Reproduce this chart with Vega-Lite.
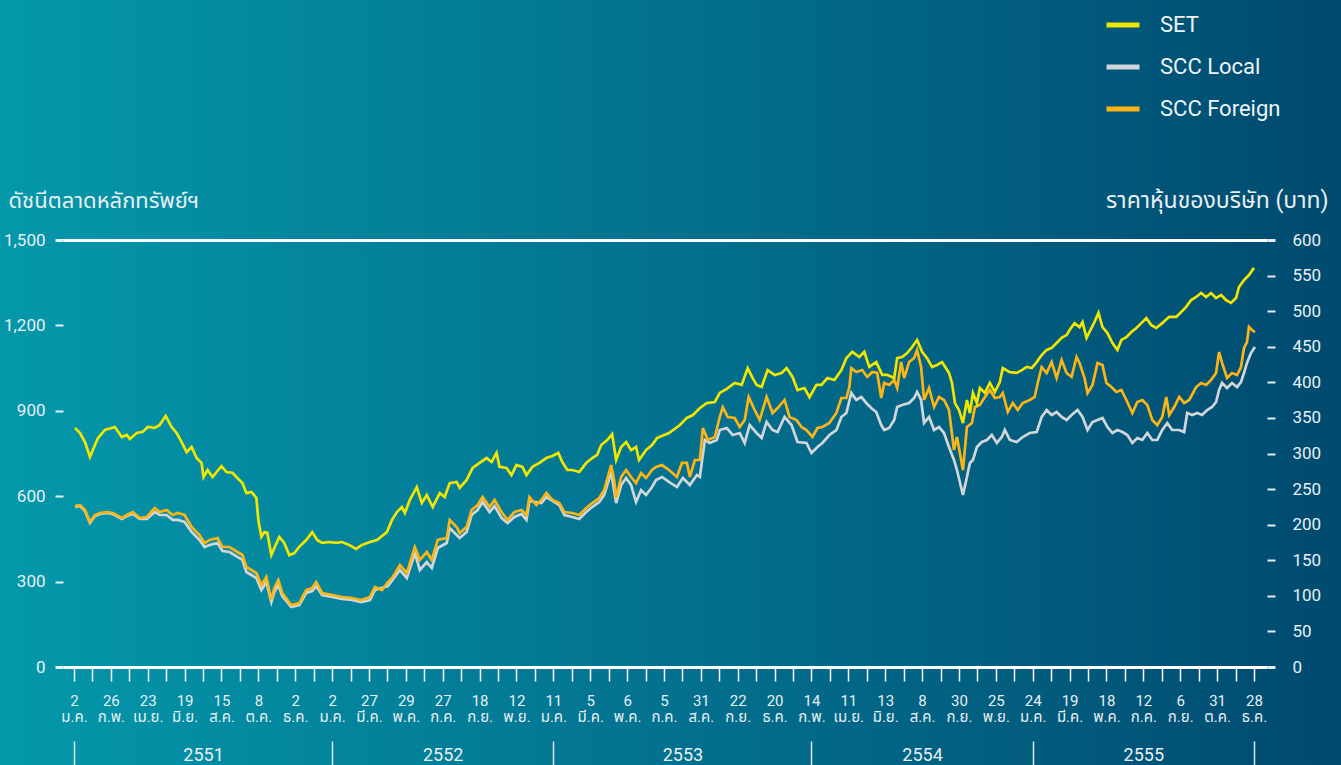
{
"$schema": "https://vega.github.io/schema/vega-lite/v6.json",
"width": 1204, "height": 427,
"autosize": {"type": "none"},
"padding": {"left": 63, "top": 240, "right": 74, "bottom": 98},
"background": "#02708d",
"config": {"view": {"stroke": null}, "font": "Roboto, 'Noto Sans Thai', sans-serif", "axis": {"labelOverlap": false}},
"data": {"values": [
{"d":1,"s":"SET","v":840},{"d":6,"s":"SET","v":822},{"d":11,"s":"SET","v":790},{"d":16,"s":"SET","v":738},{"d":21,"s":"SET","v":780},{"d":24,"s":"SET","v":804},{"d":31,"s":"SET","v":833},{"d":41,"s":"SET","v":843},{"d":48,"s":"SET","v":808},{"d":53,"s":"SET","v":815},{"d":56,"s":"SET","v":801},{"d":63,"s":"SET","v":822},{"d":69,"s":"SET","v":826},{"d":74,"s":"SET","v":843},{"d":81,"s":"SET","v":840},{"d":86,"s":"SET","v":850},{"d":92,"s":"SET","v":882},{"d":98,"s":"SET","v":843},{"d":103,"s":"SET","v":822},{"d":108,"s":"SET","v":790},{"d":113,"s":"SET","v":755},{"d":118,"s":"SET","v":773},{"d":123,"s":"SET","v":734},{"d":128,"s":"SET","v":717},{"d":130,"s":"SET","v":667},{"d":134,"s":"SET","v":692},{"d":139,"s":"SET","v":667},{"d":148,"s":"SET","v":706},{"d":153,"s":"SET","v":685},{"d":159,"s":"SET","v":682},{"d":164,"s":"SET","v":664},{"d":169,"s":"SET","v":646},{"d":173,"s":"SET","v":611},{"d":178,"s":"SET","v":615},{"d":183,"s":"SET","v":594},{"d":185,"s":"SET","v":516},{"d":188,"s":"SET","v":457},{"d":191,"s":"SET","v":474},{"d":194,"s":"SET","v":471},{"d":198,"s":"SET","v":393},{"d":201,"s":"SET","v":418},{"d":206,"s":"SET","v":457},{"d":211,"s":"SET","v":436},{"d":216,"s":"SET","v":393},{"d":221,"s":"SET","v":400},{"d":226,"s":"SET","v":422},{"d":233,"s":"SET","v":446},{"d":239,"s":"SET","v":474},{"d":244,"s":"SET","v":446},{"d":249,"s":"SET","v":436},{"d":256,"s":"SET","v":439},{"d":263,"s":"SET","v":436},{"d":269,"s":"SET","v":439},{"d":276,"s":"SET","v":429},{"d":283,"s":"SET","v":415},{"d":289,"s":"SET","v":429},{"d":297,"s":"SET","v":439},{"d":304,"s":"SET","v":446},{"d":314,"s":"SET","v":474},{"d":319,"s":"SET","v":516},{"d":324,"s":"SET","v":544},{"d":329,"s":"SET","v":562},{"d":332,"s":"SET","v":541},{"d":337,"s":"SET","v":587},{"d":344,"s":"SET","v":632},{"d":349,"s":"SET","v":576},{"d":354,"s":"SET","v":604},{"d":360,"s":"SET","v":562},{"d":367,"s":"SET","v":611},{"d":372,"s":"SET","v":597},{"d":377,"s":"SET","v":646},{"d":384,"s":"SET","v":650},{"d":387,"s":"SET","v":629},{"d":394,"s":"SET","v":657},{"d":400,"s":"SET","v":699},{"d":407,"s":"SET","v":717},{"d":414,"s":"SET","v":734},{"d":419,"s":"SET","v":720},{"d":424,"s":"SET","v":752},{"d":427,"s":"SET","v":703},{"d":434,"s":"SET","v":699},{"d":439,"s":"SET","v":674},{"d":444,"s":"SET","v":710},{"d":450,"s":"SET","v":703},{"d":454,"s":"SET","v":674},{"d":460,"s":"SET","v":703},{"d":467,"s":"SET","v":717},{"d":474,"s":"SET","v":734},{"d":480,"s":"SET","v":741},{"d":486,"s":"SET","v":752},{"d":490,"s":"SET","v":720},{"d":495,"s":"SET","v":692},{"d":500,"s":"SET","v":692},{"d":507,"s":"SET","v":685},{"d":514,"s":"SET","v":717},{"d":520,"s":"SET","v":734},{"d":525,"s":"SET","v":745},{"d":529,"s":"SET","v":780},{"d":535,"s":"SET","v":797},{"d":540,"s":"SET","v":818},{"d":544,"s":"SET","v":727},{"d":549,"s":"SET","v":773},{"d":554,"s":"SET","v":790},{"d":559,"s":"SET","v":762},{"d":564,"s":"SET","v":773},{"d":567,"s":"SET","v":727},{"d":574,"s":"SET","v":762},{"d":580,"s":"SET","v":780},{"d":585,"s":"SET","v":804},{"d":597,"s":"SET","v":822},{"d":608,"s":"SET","v":850},{"d":615,"s":"SET","v":875},{"d":621,"s":"SET","v":885},{"d":628,"s":"SET","v":910},{"d":635,"s":"SET","v":927},{"d":643,"s":"SET","v":931},{"d":648,"s":"SET","v":963},{"d":655,"s":"SET","v":977},{"d":663,"s":"SET","v":998},{"d":670,"s":"SET","v":991},{"d":676,"s":"SET","v":1050},{"d":681,"s":"SET","v":1015},{"d":685,"s":"SET","v":991},{"d":690,"s":"SET","v":984},{"d":696,"s":"SET","v":1043},{"d":703,"s":"SET","v":1026},{"d":710,"s":"SET","v":1033},{"d":715,"s":"SET","v":1050},{"d":721,"s":"SET","v":1019},{"d":726,"s":"SET","v":973},{"d":733,"s":"SET","v":980},{"d":738,"s":"SET","v":948},{"d":745,"s":"SET","v":991},{"d":750,"s":"SET","v":991},{"d":756,"s":"SET","v":1015},{"d":763,"s":"SET","v":1008},{"d":770,"s":"SET","v":1043},{"d":775,"s":"SET","v":1085},{"d":781,"s":"SET","v":1107},{"d":788,"s":"SET","v":1089},{"d":793,"s":"SET","v":1107},{"d":798,"s":"SET","v":1054},{"d":805,"s":"SET","v":1071},{"d":811,"s":"SET","v":1026},{"d":816,"s":"SET","v":1026},{"d":823,"s":"SET","v":1015},{"d":826,"s":"SET","v":1085},{"d":831,"s":"SET","v":1089},{"d":836,"s":"SET","v":1103},{"d":841,"s":"SET","v":1124},{"d":846,"s":"SET","v":1149},{"d":851,"s":"SET","v":1107},{"d":856,"s":"SET","v":1085},{"d":861,"s":"SET","v":1054},{"d":866,"s":"SET","v":1061},{"d":871,"s":"SET","v":1071},{"d":878,"s":"SET","v":1033},{"d":881,"s":"SET","v":998},{"d":884,"s":"SET","v":927},{"d":888,"s":"SET","v":903},{"d":892,"s":"SET","v":857},{"d":896,"s":"SET","v":938},{"d":899,"s":"SET","v":892},{"d":902,"s":"SET","v":963},{"d":906,"s":"SET","v":927},{"d":909,"s":"SET","v":980},{"d":914,"s":"SET","v":963},{"d":919,"s":"SET","v":998},{"d":924,"s":"SET","v":966},{"d":929,"s":"SET","v":1001},{"d":932,"s":"SET","v":1050},{"d":939,"s":"SET","v":1036},{"d":946,"s":"SET","v":1033},{"d":951,"s":"SET","v":1043},{"d":956,"s":"SET","v":1054},{"d":961,"s":"SET","v":1050},{"d":966,"s":"SET","v":1071},{"d":971,"s":"SET","v":1096},{"d":976,"s":"SET","v":1114},{"d":981,"s":"SET","v":1121},{"d":986,"s":"SET","v":1138},{"d":991,"s":"SET","v":1156},{"d":996,"s":"SET","v":1166},{"d":999,"s":"SET","v":1184},{"d":1004,"s":"SET","v":1208},{"d":1009,"s":"SET","v":1194},{"d":1012,"s":"SET","v":1212},{"d":1016,"s":"SET","v":1156},{"d":1019,"s":"SET","v":1177},{"d":1024,"s":"SET","v":1212},{"d":1028,"s":"SET","v":1244},{"d":1032,"s":"SET","v":1194},{"d":1037,"s":"SET","v":1173},{"d":1042,"s":"SET","v":1138},{"d":1047,"s":"SET","v":1114},{"d":1051,"s":"SET","v":1149},{"d":1056,"s":"SET","v":1159},{"d":1061,"s":"SET","v":1177},{"d":1066,"s":"SET","v":1191},{"d":1071,"s":"SET","v":1208},{"d":1076,"s":"SET","v":1226},{"d":1081,"s":"SET","v":1201},{"d":1086,"s":"SET","v":1191},{"d":1092,"s":"SET","v":1208},{"d":1099,"s":"SET","v":1230},{"d":1106,"s":"SET","v":1230},{"d":1111,"s":"SET","v":1247},{"d":1116,"s":"SET","v":1265},{"d":1121,"s":"SET","v":1289},{"d":1126,"s":"SET","v":1300},{"d":1131,"s":"SET","v":1314},{"d":1136,"s":"SET","v":1300},{"d":1141,"s":"SET","v":1314},{"d":1146,"s":"SET","v":1296},{"d":1151,"s":"SET","v":1307},{"d":1156,"s":"SET","v":1289},{"d":1161,"s":"SET","v":1279},{"d":1166,"s":"SET","v":1296},{"d":1169,"s":"SET","v":1335},{"d":1174,"s":"SET","v":1359},{"d":1179,"s":"SET","v":1377},{"d":1184,"s":"SET","v":1402},
{"d":1,"s":"SCC Local","v":224.8},{"d":6,"s":"SCC Local","v":226.2},{"d":11,"s":"SCC Local","v":219.2},{"d":16,"s":"SCC Local","v":202.3},{"d":21,"s":"SCC Local","v":212.2},{"d":26,"s":"SCC Local","v":215.0},{"d":33,"s":"SCC Local","v":216.4},{"d":39,"s":"SCC Local","v":215.0},{"d":48,"s":"SCC Local","v":208.0},{"d":53,"s":"SCC Local","v":212.2},{"d":59,"s":"SCC Local","v":215.0},{"d":66,"s":"SCC Local","v":208.0},{"d":73,"s":"SCC Local","v":208.0},{"d":81,"s":"SCC Local","v":217.8},{"d":86,"s":"SCC Local","v":213.6},{"d":93,"s":"SCC Local","v":213.6},{"d":99,"s":"SCC Local","v":206.6},{"d":104,"s":"SCC Local","v":206.6},{"d":111,"s":"SCC Local","v":203.7},{"d":118,"s":"SCC Local","v":189.7},{"d":126,"s":"SCC Local","v":178.5},{"d":131,"s":"SCC Local","v":168.6},{"d":136,"s":"SCC Local","v":171.4},{"d":144,"s":"SCC Local","v":174.2},{"d":149,"s":"SCC Local","v":163.0},{"d":156,"s":"SCC Local","v":161.6},{"d":164,"s":"SCC Local","v":154.6},{"d":169,"s":"SCC Local","v":150.4},{"d":173,"s":"SCC Local","v":133.5},{"d":178,"s":"SCC Local","v":129.3},{"d":183,"s":"SCC Local","v":125.1},{"d":188,"s":"SCC Local","v":108.2},{"d":193,"s":"SCC Local","v":119.4},{"d":198,"s":"SCC Local","v":91.3},{"d":201,"s":"SCC Local","v":105.4},{"d":205,"s":"SCC Local","v":115.2},{"d":209,"s":"SCC Local","v":99.8},{"d":218,"s":"SCC Local","v":84.3},{"d":226,"s":"SCC Local","v":87.1},{"d":233,"s":"SCC Local","v":104.0},{"d":239,"s":"SCC Local","v":106.8},{"d":243,"s":"SCC Local","v":113.8},{"d":249,"s":"SCC Local","v":101.2},{"d":259,"s":"SCC Local","v":98.4},{"d":269,"s":"SCC Local","v":95.6},{"d":279,"s":"SCC Local","v":94.1},{"d":288,"s":"SCC Local","v":91.3},{"d":297,"s":"SCC Local","v":94.1},{"d":302,"s":"SCC Local","v":108.2},{"d":315,"s":"SCC Local","v":113.8},{"d":327,"s":"SCC Local","v":136.3},{"d":334,"s":"SCC Local","v":125.1},{"d":342,"s":"SCC Local","v":160.2},{"d":347,"s":"SCC Local","v":136.3},{"d":354,"s":"SCC Local","v":147.5},{"d":359,"s":"SCC Local","v":139.1},{"d":365,"s":"SCC Local","v":167.2},{"d":374,"s":"SCC Local","v":174.2},{"d":377,"s":"SCC Local","v":195.3},{"d":387,"s":"SCC Local","v":181.3},{"d":394,"s":"SCC Local","v":189.7},{"d":399,"s":"SCC Local","v":213.6},{"d":405,"s":"SCC Local","v":220.6},{"d":410,"s":"SCC Local","v":231.8},{"d":417,"s":"SCC Local","v":217.8},{"d":422,"s":"SCC Local","v":226.2},{"d":429,"s":"SCC Local","v":209.4},{"d":435,"s":"SCC Local","v":202.3},{"d":442,"s":"SCC Local","v":210.8},{"d":449,"s":"SCC Local","v":215.0},{"d":454,"s":"SCC Local","v":206.6},{"d":457,"s":"SCC Local","v":233.3},{"d":469,"s":"SCC Local","v":230.4},{"d":474,"s":"SCC Local","v":238.9},{"d":487,"s":"SCC Local","v":227.6},{"d":492,"s":"SCC Local","v":213.6},{"d":500,"s":"SCC Local","v":210.8},{"d":507,"s":"SCC Local","v":208.0},{"d":514,"s":"SCC Local","v":217.8},{"d":520,"s":"SCC Local","v":224.8},{"d":527,"s":"SCC Local","v":231.8},{"d":532,"s":"SCC Local","v":241.7},{"d":539,"s":"SCC Local","v":274.0},{"d":544,"s":"SCC Local","v":230.4},{"d":549,"s":"SCC Local","v":255.7},{"d":554,"s":"SCC Local","v":265.6},{"d":559,"s":"SCC Local","v":255.7},{"d":564,"s":"SCC Local","v":231.8},{"d":569,"s":"SCC Local","v":248.7},{"d":574,"s":"SCC Local","v":241.7},{"d":580,"s":"SCC Local","v":252.9},{"d":584,"s":"SCC Local","v":262.8},{"d":590,"s":"SCC Local","v":267.0},{"d":597,"s":"SCC Local","v":260.0},{"d":605,"s":"SCC Local","v":252.9},{"d":611,"s":"SCC Local","v":265.6},{"d":618,"s":"SCC Local","v":255.7},{"d":625,"s":"SCC Local","v":269.8},{"d":628,"s":"SCC Local","v":267.0},{"d":633,"s":"SCC Local","v":319.0},{"d":638,"s":"SCC Local","v":314.8},{"d":645,"s":"SCC Local","v":319.0},{"d":648,"s":"SCC Local","v":333.0},{"d":655,"s":"SCC Local","v":335.8},{"d":661,"s":"SCC Local","v":326.0},{"d":668,"s":"SCC Local","v":328.8},{"d":673,"s":"SCC Local","v":314.8},{"d":678,"s":"SCC Local","v":340.0},{"d":685,"s":"SCC Local","v":328.8},{"d":690,"s":"SCC Local","v":321.8},{"d":695,"s":"SCC Local","v":344.3},{"d":701,"s":"SCC Local","v":333.0},{"d":706,"s":"SCC Local","v":330.2},{"d":713,"s":"SCC Local","v":351.3},{"d":720,"s":"SCC Local","v":340.0},{"d":726,"s":"SCC Local","v":316.2},{"d":735,"s":"SCC Local","v":314.8},{"d":740,"s":"SCC Local","v":300.7},{"d":746,"s":"SCC Local","v":309.1},{"d":751,"s":"SCC Local","v":314.8},{"d":758,"s":"SCC Local","v":326.0},{"d":765,"s":"SCC Local","v":333.0},{"d":770,"s":"SCC Local","v":351.3},{"d":775,"s":"SCC Local","v":356.9},{"d":780,"s":"SCC Local","v":385.0},{"d":785,"s":"SCC Local","v":375.2},{"d":790,"s":"SCC Local","v":379.4},{"d":795,"s":"SCC Local","v":371.0},{"d":800,"s":"SCC Local","v":363.9},{"d":805,"s":"SCC Local","v":358.3},{"d":810,"s":"SCC Local","v":340.0},{"d":813,"s":"SCC Local","v":333.0},{"d":818,"s":"SCC Local","v":335.8},{"d":823,"s":"SCC Local","v":347.1},{"d":826,"s":"SCC Local","v":365.3},{"d":831,"s":"SCC Local","v":368.1},{"d":838,"s":"SCC Local","v":371.0},{"d":843,"s":"SCC Local","v":378.0},{"d":846,"s":"SCC Local","v":386.4},{"d":850,"s":"SCC Local","v":375.2},{"d":853,"s":"SCC Local","v":342.9},{"d":858,"s":"SCC Local","v":351.3},{"d":863,"s":"SCC Local","v":333.0},{"d":868,"s":"SCC Local","v":337.2},{"d":873,"s":"SCC Local","v":328.8},{"d":878,"s":"SCC Local","v":309.1},{"d":883,"s":"SCC Local","v":290.9},{"d":886,"s":"SCC Local","v":276.8},{"d":892,"s":"SCC Local","v":241.7},{"d":896,"s":"SCC Local","v":267.0},{"d":899,"s":"SCC Local","v":286.7},{"d":902,"s":"SCC Local","v":290.9},{"d":906,"s":"SCC Local","v":309.1},{"d":911,"s":"SCC Local","v":316.2},{"d":916,"s":"SCC Local","v":319.0},{"d":921,"s":"SCC Local","v":326.0},{"d":926,"s":"SCC Local","v":314.8},{"d":931,"s":"SCC Local","v":323.2},{"d":934,"s":"SCC Local","v":333.0},{"d":939,"s":"SCC Local","v":319.0},{"d":946,"s":"SCC Local","v":316.2},{"d":952,"s":"SCC Local","v":323.2},{"d":959,"s":"SCC Local","v":328.8},{"d":966,"s":"SCC Local","v":330.2},{"d":971,"s":"SCC Local","v":351.3},{"d":976,"s":"SCC Local","v":361.1},{"d":981,"s":"SCC Local","v":354.1},{"d":986,"s":"SCC Local","v":358.3},{"d":991,"s":"SCC Local","v":351.3},{"d":996,"s":"SCC Local","v":347.1},{"d":1001,"s":"SCC Local","v":354.1},{"d":1007,"s":"SCC Local","v":361.1},{"d":1012,"s":"SCC Local","v":351.3},{"d":1017,"s":"SCC Local","v":333.0},{"d":1022,"s":"SCC Local","v":344.3},{"d":1027,"s":"SCC Local","v":347.1},{"d":1032,"s":"SCC Local","v":349.9},{"d":1037,"s":"SCC Local","v":337.2},{"d":1042,"s":"SCC Local","v":328.8},{"d":1047,"s":"SCC Local","v":333.0},{"d":1052,"s":"SCC Local","v":330.2},{"d":1057,"s":"SCC Local","v":326.0},{"d":1062,"s":"SCC Local","v":314.8},{"d":1067,"s":"SCC Local","v":321.8},{"d":1072,"s":"SCC Local","v":319.0},{"d":1077,"s":"SCC Local","v":328.8},{"d":1082,"s":"SCC Local","v":319.0},{"d":1087,"s":"SCC Local","v":319.0},{"d":1092,"s":"SCC Local","v":333.0},{"d":1097,"s":"SCC Local","v":342.9},{"d":1102,"s":"SCC Local","v":333.0},{"d":1109,"s":"SCC Local","v":333.0},{"d":1114,"s":"SCC Local","v":330.2},{"d":1117,"s":"SCC Local","v":356.9},{"d":1122,"s":"SCC Local","v":354.1},{"d":1127,"s":"SCC Local","v":356.9},{"d":1132,"s":"SCC Local","v":354.1},{"d":1137,"s":"SCC Local","v":361.1},{"d":1142,"s":"SCC Local","v":365.3},{"d":1146,"s":"SCC Local","v":372.4},{"d":1149,"s":"SCC Local","v":389.2},{"d":1152,"s":"SCC Local","v":399.1},{"d":1157,"s":"SCC Local","v":392.0},{"d":1162,"s":"SCC Local","v":399.1},{"d":1167,"s":"SCC Local","v":393.4},{"d":1171,"s":"SCC Local","v":400.5},{"d":1174,"s":"SCC Local","v":413.1},{"d":1177,"s":"SCC Local","v":427.2},{"d":1181,"s":"SCC Local","v":441.2},{"d":1185,"s":"SCC Local","v":449.6},
{"d":1,"s":"SCC Foreign","v":226.2},{"d":6,"s":"SCC Foreign","v":227.6},{"d":11,"s":"SCC Foreign","v":220.6},{"d":16,"s":"SCC Foreign","v":203.7},{"d":21,"s":"SCC Foreign","v":213.6},{"d":26,"s":"SCC Foreign","v":216.4},{"d":33,"s":"SCC Foreign","v":217.8},{"d":39,"s":"SCC Foreign","v":216.4},{"d":48,"s":"SCC Foreign","v":209.4},{"d":53,"s":"SCC Foreign","v":213.6},{"d":59,"s":"SCC Foreign","v":217.8},{"d":66,"s":"SCC Foreign","v":209.4},{"d":73,"s":"SCC Foreign","v":210.8},{"d":81,"s":"SCC Foreign","v":223.4},{"d":86,"s":"SCC Foreign","v":217.8},{"d":93,"s":"SCC Foreign","v":220.6},{"d":99,"s":"SCC Foreign","v":213.6},{"d":104,"s":"SCC Foreign","v":216.4},{"d":111,"s":"SCC Foreign","v":213.6},{"d":118,"s":"SCC Foreign","v":196.7},{"d":126,"s":"SCC Foreign","v":185.5},{"d":131,"s":"SCC Foreign","v":174.2},{"d":136,"s":"SCC Foreign","v":178.5},{"d":144,"s":"SCC Foreign","v":181.3},{"d":149,"s":"SCC Foreign","v":168.6},{"d":156,"s":"SCC Foreign","v":168.6},{"d":164,"s":"SCC Foreign","v":161.6},{"d":169,"s":"SCC Foreign","v":157.4},{"d":173,"s":"SCC Foreign","v":140.5},{"d":178,"s":"SCC Foreign","v":136.3},{"d":183,"s":"SCC Foreign","v":132.1},{"d":188,"s":"SCC Foreign","v":115.2},{"d":193,"s":"SCC Foreign","v":126.5},{"d":198,"s":"SCC Foreign","v":94.1},{"d":201,"s":"SCC Foreign","v":111.0},{"d":205,"s":"SCC Foreign","v":122.2},{"d":209,"s":"SCC Foreign","v":104.0},{"d":218,"s":"SCC Foreign","v":87.1},{"d":226,"s":"SCC Foreign","v":89.9},{"d":233,"s":"SCC Foreign","v":108.2},{"d":239,"s":"SCC Foreign","v":111.0},{"d":243,"s":"SCC Foreign","v":119.4},{"d":249,"s":"SCC Foreign","v":104.0},{"d":259,"s":"SCC Foreign","v":101.2},{"d":269,"s":"SCC Foreign","v":98.4},{"d":279,"s":"SCC Foreign","v":97.0},{"d":288,"s":"SCC Foreign","v":94.1},{"d":297,"s":"SCC Foreign","v":98.4},{"d":302,"s":"SCC Foreign","v":112.4},{"d":309,"s":"SCC Foreign","v":108.2},{"d":315,"s":"SCC Foreign","v":119.4},{"d":320,"s":"SCC Foreign","v":126.5},{"d":327,"s":"SCC Foreign","v":143.3},{"d":334,"s":"SCC Foreign","v":132.1},{"d":342,"s":"SCC Foreign","v":168.6},{"d":347,"s":"SCC Foreign","v":150.4},{"d":354,"s":"SCC Foreign","v":161.6},{"d":359,"s":"SCC Foreign","v":150.4},{"d":365,"s":"SCC Foreign","v":178.5},{"d":374,"s":"SCC Foreign","v":181.3},{"d":377,"s":"SCC Foreign","v":206.6},{"d":384,"s":"SCC Foreign","v":196.7},{"d":387,"s":"SCC Foreign","v":188.3},{"d":394,"s":"SCC Foreign","v":196.7},{"d":399,"s":"SCC Foreign","v":220.6},{"d":405,"s":"SCC Foreign","v":227.6},{"d":410,"s":"SCC Foreign","v":238.9},{"d":417,"s":"SCC Foreign","v":224.8},{"d":422,"s":"SCC Foreign","v":234.7},{"d":429,"s":"SCC Foreign","v":217.8},{"d":435,"s":"SCC Foreign","v":206.6},{"d":442,"s":"SCC Foreign","v":217.8},{"d":449,"s":"SCC Foreign","v":220.6},{"d":454,"s":"SCC Foreign","v":213.6},{"d":457,"s":"SCC Foreign","v":238.9},{"d":464,"s":"SCC Foreign","v":227.6},{"d":469,"s":"SCC Foreign","v":234.7},{"d":474,"s":"SCC Foreign","v":244.5},{"d":480,"s":"SCC Foreign","v":234.7},{"d":487,"s":"SCC Foreign","v":230.4},{"d":492,"s":"SCC Foreign","v":217.8},{"d":500,"s":"SCC Foreign","v":216.4},{"d":507,"s":"SCC Foreign","v":213.6},{"d":514,"s":"SCC Foreign","v":223.4},{"d":520,"s":"SCC Foreign","v":230.4},{"d":527,"s":"SCC Foreign","v":237.5},{"d":532,"s":"SCC Foreign","v":248.7},{"d":539,"s":"SCC Foreign","v":283.8},{"d":542,"s":"SCC Foreign","v":262.8},{"d":544,"s":"SCC Foreign","v":237.5},{"d":549,"s":"SCC Foreign","v":267.0},{"d":554,"s":"SCC Foreign","v":276.8},{"d":559,"s":"SCC Foreign","v":267.0},{"d":564,"s":"SCC Foreign","v":258.5},{"d":569,"s":"SCC Foreign","v":272.6},{"d":574,"s":"SCC Foreign","v":265.6},{"d":580,"s":"SCC Foreign","v":276.8},{"d":584,"s":"SCC Foreign","v":281.0},{"d":590,"s":"SCC Foreign","v":283.8},{"d":597,"s":"SCC Foreign","v":276.8},{"d":605,"s":"SCC Foreign","v":267.0},{"d":610,"s":"SCC Foreign","v":286.7},{"d":615,"s":"SCC Foreign","v":286.7},{"d":618,"s":"SCC Foreign","v":267.0},{"d":623,"s":"SCC Foreign","v":290.9},{"d":628,"s":"SCC Foreign","v":290.9},{"d":631,"s":"SCC Foreign","v":335.8},{"d":636,"s":"SCC Foreign","v":319.0},{"d":643,"s":"SCC Foreign","v":323.2},{"d":648,"s":"SCC Foreign","v":351.3},{"d":651,"s":"SCC Foreign","v":365.3},{"d":656,"s":"SCC Foreign","v":351.3},{"d":663,"s":"SCC Foreign","v":349.9},{"d":668,"s":"SCC Foreign","v":337.2},{"d":673,"s":"SCC Foreign","v":347.1},{"d":677,"s":"SCC Foreign","v":379.4},{"d":683,"s":"SCC Foreign","v":361.1},{"d":688,"s":"SCC Foreign","v":347.1},{"d":695,"s":"SCC Foreign","v":379.4},{"d":701,"s":"SCC Foreign","v":356.9},{"d":706,"s":"SCC Foreign","v":363.9},{"d":713,"s":"SCC Foreign","v":375.2},{"d":718,"s":"SCC Foreign","v":351.3},{"d":725,"s":"SCC Foreign","v":347.1},{"d":730,"s":"SCC Foreign","v":337.2},{"d":735,"s":"SCC Foreign","v":333.0},{"d":741,"s":"SCC Foreign","v":323.2},{"d":746,"s":"SCC Foreign","v":335.8},{"d":751,"s":"SCC Foreign","v":337.2},{"d":758,"s":"SCC Foreign","v":342.9},{"d":765,"s":"SCC Foreign","v":356.9},{"d":770,"s":"SCC Foreign","v":378.0},{"d":775,"s":"SCC Foreign","v":378.0},{"d":778,"s":"SCC Foreign","v":393.4},{"d":780,"s":"SCC Foreign","v":420.1},{"d":785,"s":"SCC Foreign","v":414.5},{"d":791,"s":"SCC Foreign","v":417.3},{"d":796,"s":"SCC Foreign","v":407.5},{"d":801,"s":"SCC Foreign","v":414.5},{"d":806,"s":"SCC Foreign","v":413.1},{"d":810,"s":"SCC Foreign","v":378.0},{"d":813,"s":"SCC Foreign","v":399.1},{"d":818,"s":"SCC Foreign","v":396.3},{"d":823,"s":"SCC Foreign","v":403.3},{"d":826,"s":"SCC Foreign","v":392.0},{"d":830,"s":"SCC Foreign","v":428.6},{"d":833,"s":"SCC Foreign","v":406.1},{"d":838,"s":"SCC Foreign","v":428.6},{"d":843,"s":"SCC Foreign","v":434.2},{"d":846,"s":"SCC Foreign","v":445.4},{"d":850,"s":"SCC Foreign","v":421.5},{"d":853,"s":"SCC Foreign","v":375.2},{"d":858,"s":"SCC Foreign","v":392.0},{"d":863,"s":"SCC Foreign","v":365.3},{"d":868,"s":"SCC Foreign","v":379.4},{"d":873,"s":"SCC Foreign","v":375.2},{"d":878,"s":"SCC Foreign","v":361.1},{"d":883,"s":"SCC Foreign","v":304.9},{"d":886,"s":"SCC Foreign","v":323.2},{"d":892,"s":"SCC Foreign","v":276.8},{"d":896,"s":"SCC Foreign","v":337.2},{"d":901,"s":"SCC Foreign","v":342.9},{"d":904,"s":"SCC Foreign","v":365.3},{"d":909,"s":"SCC Foreign","v":368.1},{"d":914,"s":"SCC Foreign","v":379.4},{"d":919,"s":"SCC Foreign","v":389.2},{"d":924,"s":"SCC Foreign","v":378.0},{"d":929,"s":"SCC Foreign","v":379.4},{"d":932,"s":"SCC Foreign","v":385.0},{"d":937,"s":"SCC Foreign","v":358.3},{"d":942,"s":"SCC Foreign","v":371.0},{"d":947,"s":"SCC Foreign","v":361.1},{"d":952,"s":"SCC Foreign","v":371.0},{"d":959,"s":"SCC Foreign","v":375.2},{"d":964,"s":"SCC Foreign","v":379.4},{"d":967,"s":"SCC Foreign","v":399.1},{"d":971,"s":"SCC Foreign","v":421.5},{"d":976,"s":"SCC Foreign","v":413.1},{"d":981,"s":"SCC Foreign","v":428.6},{"d":986,"s":"SCC Foreign","v":406.1},{"d":991,"s":"SCC Foreign","v":431.4},{"d":996,"s":"SCC Foreign","v":413.1},{"d":1001,"s":"SCC Foreign","v":407.5},{"d":1006,"s":"SCC Foreign","v":435.6},{"d":1009,"s":"SCC Foreign","v":427.2},{"d":1014,"s":"SCC Foreign","v":406.1},{"d":1017,"s":"SCC Foreign","v":385.0},{"d":1022,"s":"SCC Foreign","v":396.3},{"d":1027,"s":"SCC Foreign","v":427.2},{"d":1032,"s":"SCC Foreign","v":424.4},{"d":1036,"s":"SCC Foreign","v":399.1},{"d":1041,"s":"SCC Foreign","v":393.4},{"d":1046,"s":"SCC Foreign","v":386.4},{"d":1051,"s":"SCC Foreign","v":389.2},{"d":1056,"s":"SCC Foreign","v":375.2},{"d":1062,"s":"SCC Foreign","v":356.9},{"d":1067,"s":"SCC Foreign","v":372.4},{"d":1072,"s":"SCC Foreign","v":375.2},{"d":1077,"s":"SCC Foreign","v":368.1},{"d":1082,"s":"SCC Foreign","v":347.1},{"d":1087,"s":"SCC Foreign","v":340.0},{"d":1092,"s":"SCC Foreign","v":351.3},{"d":1096,"s":"SCC Foreign","v":379.4},{"d":1099,"s":"SCC Foreign","v":354.1},{"d":1104,"s":"SCC Foreign","v":365.3},{"d":1109,"s":"SCC Foreign","v":379.4},{"d":1114,"s":"SCC Foreign","v":371.0},{"d":1119,"s":"SCC Foreign","v":375.2},{"d":1126,"s":"SCC Foreign","v":393.4},{"d":1131,"s":"SCC Foreign","v":399.1},{"d":1136,"s":"SCC Foreign","v":396.3},{"d":1141,"s":"SCC Foreign","v":403.3},{"d":1146,"s":"SCC Foreign","v":413.1},{"d":1149,"s":"SCC Foreign","v":442.6},{"d":1152,"s":"SCC Foreign","v":427.2},{"d":1157,"s":"SCC Foreign","v":406.1},{"d":1162,"s":"SCC Foreign","v":413.1},{"d":1167,"s":"SCC Foreign","v":410.3},{"d":1171,"s":"SCC Foreign","v":421.5},{"d":1174,"s":"SCC Foreign","v":448.2},{"d":1177,"s":"SCC Foreign","v":456.7},{"d":1179,"s":"SCC Foreign","v":477.8},{"d":1182,"s":"SCC Foreign","v":473.5},{"d":1185,"s":"SCC Foreign","v":470.7}
]},
"layer": [
 {"layer": [
   {"data": {"values": [{}]},
    "mark": {"type": "rect", "fill": {"gradient": "linear", "x1": 0, "y1": 0, "x2": 1, "y2": 0, "stops": [{"offset": 0, "color": "#0498aa"}, {"offset": 0.5, "color": "#03718f"}, {"offset": 1, "color": "#004a6f"}]}},
    "encoding": {
      "x": {"datum": -75, "type": "quantitative", "scale": {"domain": [-11.04, 1197.1], "nice": false, "zero": false},
        "axis": {"orient": "bottom", "title": null, "zindex": 1, "domain": false, "grid": false, "tickCount": 200,
          "values": [0,18.5,37,55.5,74,92.5,111,129.5,148,166.5,185,203.5,222,240.5,259,277.5,296,314.5,333,351.5,370,388.5,407,425.5,444,462.5,481,499.5,518,536.5,555,573.5,592,610.5,629,647.5,666,684.5,703,721.5,740,758.5,777,795.5,814,832.5,851,869.5,888,906.5,925,943.5,962,980.5,999,1017.5,1036,1054.5,1073,1091.5,1110,1128.5,1147,1165.5,1184],
          "labelExpr": "datum.value % 37 == 0 ? [['2','ม.ค.'],['26','ก.พ.'],['23','เม.ย.'],['19','มิ.ย.'],['15','ส.ค.'],['8','ต.ค.'],['2','ธ.ค.'],['2','ม.ค.'],['27','มี.ค.'],['29','พ.ค.'],['27','ก.ค.'],['18','ก.ย.'],['12','พ.ย.'],['11','ม.ค.'],['5','มี.ค.'],['6','พ.ค.'],['5','ก.ค.'],['31','ส.ค.'],['22','ก.ย.'],['20','ธ.ค.'],['14','ก.พ.'],['11','เม.ย.'],['13','มิ.ย.'],['8','ส.ค.'],['30','ก.ย.'],['25','พ.ย.'],['24','ม.ค.'],['19','มี.ค.'],['18','พ.ค.'],['12','ก.ค.'],['6','ก.ย.'],['31','ต.ค.'],['28','ธ.ค.']][round(datum.value / 37)] : ''",
          "tickSize": 14, "tickWidth": 1.5, "tickColor": "#ffffff",
          "labelFontSize": 15, "labelColor": "#e8eff2", "labelPadding": 12, "labelLineHeight": 16,
          "labelOverlap": false, "labelFlush": false, "labelBound": false}},
      "x2": {"datum": 1272},
      "y": {"datum": -140, "type": "quantitative", "scale": {"domain": [0, 600], "nice": false}},
      "y2": {"datum": 940}
    }},
   {"transform": [{"filter": "datum.s == 'SCC Local'"}],
    "mark": {"type": "line", "strokeWidth": 2.7},
    "encoding": {
      "x": {"field": "d", "type": "quantitative", "scale": {"domain": [-11.04, 1197.1], "nice": false, "zero": false},
        "axis": {"orient": "bottom", "title": null, "zindex": 1, "domain": false, "grid": false, "tickCount": 200,
          "values": [0,18.5,37,55.5,74,92.5,111,129.5,148,166.5,185,203.5,222,240.5,259,277.5,296,314.5,333,351.5,370,388.5,407,425.5,444,462.5,481,499.5,518,536.5,555,573.5,592,610.5,629,647.5,666,684.5,703,721.5,740,758.5,777,795.5,814,832.5,851,869.5,888,906.5,925,943.5,962,980.5,999,1017.5,1036,1054.5,1073,1091.5,1110,1128.5,1147,1165.5,1184],
          "labelExpr": "datum.value % 37 == 0 ? [['2','ม.ค.'],['26','ก.พ.'],['23','เม.ย.'],['19','มิ.ย.'],['15','ส.ค.'],['8','ต.ค.'],['2','ธ.ค.'],['2','ม.ค.'],['27','มี.ค.'],['29','พ.ค.'],['27','ก.ค.'],['18','ก.ย.'],['12','พ.ย.'],['11','ม.ค.'],['5','มี.ค.'],['6','พ.ค.'],['5','ก.ค.'],['31','ส.ค.'],['22','ก.ย.'],['20','ธ.ค.'],['14','ก.พ.'],['11','เม.ย.'],['13','มิ.ย.'],['8','ส.ค.'],['30','ก.ย.'],['25','พ.ย.'],['24','ม.ค.'],['19','มี.ค.'],['18','พ.ค.'],['12','ก.ค.'],['6','ก.ย.'],['31','ต.ค.'],['28','ธ.ค.']][round(datum.value / 37)] : ''",
          "tickSize": 14, "tickWidth": 1.5, "tickColor": "#ffffff",
          "labelFontSize": 15, "labelColor": "#e8eff2", "labelPadding": 12, "labelLineHeight": 16,
          "labelOverlap": false, "labelFlush": false, "labelBound": false}},
      "y": {"field": "v", "type": "quantitative", "scale": {"domain": [0, 600], "nice": false},
        "axis": {"orient": "right", "zindex": 1, "domain": false, "grid": false, "tickCount": 100,
          "values": [0,50,100,150,200,250,300,350,400,450,500,550,600],
          "tickSize": 8, "tickColor": "#ffffff", "tickOpacity": 0.9,
          "tickWidth": {"condition": {"test": "datum.value == 0 || datum.value == 600", "value": 3}, "value": 2},
          "labelFontSize": 17, "labelColor": "#e8eff2", "labelPadding": 17,
          "title": "ราคาหุ้นของบริษัท (บาท)", "titleAngle": 0, "titleAlign": "right", "titleBaseline": "alphabetic",
          "titleX": 61, "titleY": -33, "titleFontSize": 23, "titleFontWeight": "normal", "titleColor": "#e8eff2"}},
      "color": {"field": "s", "type": "nominal",
        "scale": {"domain": ["SET", "SCC Local", "SCC Foreign"], "range": ["#f0e600", "#d3d6d9", "#fdb515"]},
        "legend": {"orient": "none", "legendX": 1041, "legendY": -234, "title": null, "zindex": 1,
          "symbolType": "stroke", "symbolSize": 1089, "symbolStrokeWidth": 5,
          "labelFontSize": 22, "labelColor": "#eef3f5", "labelOffset": 18, "rowPadding": 12}}
    }},
   {"transform": [{"filter": "datum.s == 'SCC Foreign'"}],
    "mark": {"type": "line", "strokeWidth": 2.7},
    "encoding": {
      "x": {"field": "d", "type": "quantitative", "scale": {"domain": [-11.04, 1197.1], "nice": false, "zero": false}},
      "y": {"field": "v", "type": "quantitative", "scale": {"domain": [0, 600], "nice": false}},
      "color": {"field": "s", "type": "nominal"}
    }}
 ]},
 {"transform": [{"filter": "datum.s == 'SET'"}],
  "mark": {"type": "line", "strokeWidth": 2.7},
  "encoding": {
    "x": {"field": "d", "type": "quantitative", "scale": {"domain": [-11.04, 1197.1], "nice": false, "zero": false},
      "axis": {"orient": "bottom", "title": null, "zindex": 1, "domain": false, "grid": false, "offset": 74, "tickCount": 100,
        "values": [0,129.5,259,370,481,610.5,740,851,962,1073,1184],
        "labelExpr": "datum.value == 129.5 ? '2551' : datum.value == 370 ? '2552' : datum.value == 610.5 ? '2553' : datum.value == 851 ? '2554' : datum.value == 1073 ? '2555' : ''",
        "tickSize": 30, "tickWidth": 1.5, "tickColor": "#dce6ea",
        "tickOpacity": {"condition": {"test": "indexof([0,259,481,740,962,1184], datum.value) >= 0", "value": 1}, "value": 0},
        "labelFontSize": 18, "labelColor": "#e8eff2", "labelPadding": -25,
        "labelOverlap": false, "labelFlush": false, "labelBound": false}},
    "y": {"field": "v", "type": "quantitative", "scale": {"domain": [0, 1500], "nice": false},
      "axis": {"orient": "left", "zindex": 1, "domain": false, "tickCount": 100,
        "values": [0,300,600,900,1200,1500], "format": ",d",
        "grid": true, "gridColor": "#ffffff", "gridWidth": 3,
        "gridOpacity": {"condition": {"test": "datum.value == 0 || datum.value == 1500", "value": 1}, "value": 0},
        "tickSize": 8, "tickColor": "#ffffff", "tickOpacity": 0.9,
        "tickWidth": {"condition": {"test": "datum.value == 0 || datum.value == 1500", "value": 3}, "value": 2},
        "labelFontSize": 17, "labelColor": "#e8eff2", "labelPadding": 10,
        "title": "ดัชนีตลาดหลักทรัพย์ฯ", "titleAngle": 0, "titleAlign": "left", "titleBaseline": "alphabetic",
        "titleX": -55, "titleY": -33, "titleFontSize": 22, "titleFontWeight": "normal", "titleColor": "#e8eff2"}},
    "color": {"field": "s", "type": "nominal"}
  }}
],
"resolve": {"scale": {"y": "independent", "x": "independent"}}
}
